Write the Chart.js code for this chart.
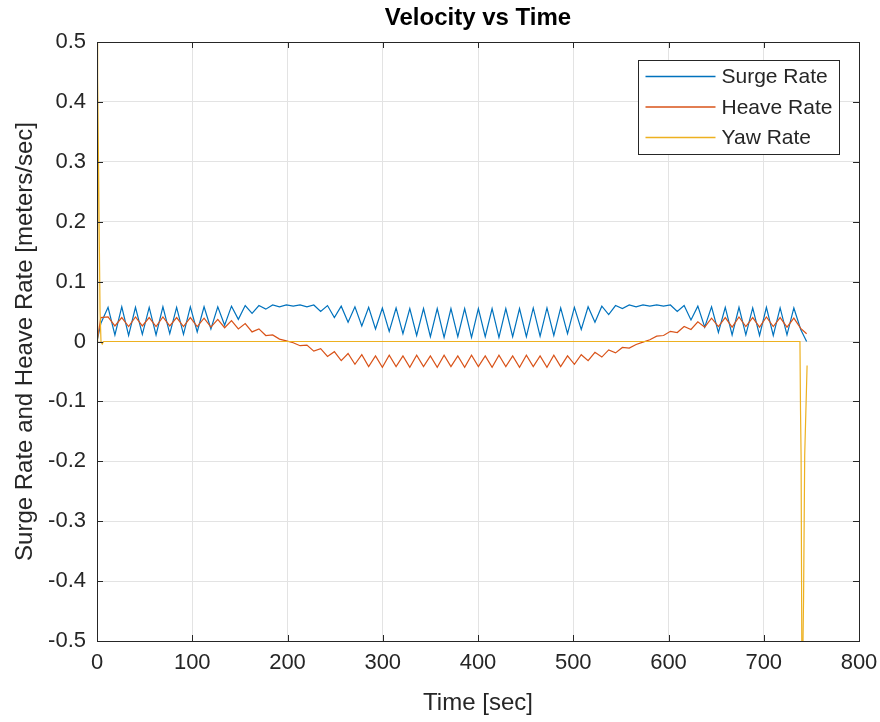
<!DOCTYPE html>
<html>
<head>
<meta charset="utf-8">
<title>Velocity vs Time</title>
<script src="https://cdn.jsdelivr.net/npm/chart.js@4.4.1/dist/chart.umd.min.js"></script>
<style>
    html, body { margin: 0; padding: 0; background: #ffffff; }
    #wrap { width: 880px; height: 722px; }
</style>
</head>
<body>
<div id="wrap"><canvas id="velocityChart" width="880" height="722"></canvas></div>
<script>
/* ==========================================================
   Velocity vs Time — surge / heave / yaw rate
========================================================== */

// time stamps shared by surge and heave [sec]
const time = [
    0, 4, 11.6, 18.8, 26.0, 33.2, 40.4, 47.6, 54.8, 62.0, 69.2, 76.4, 83.6, 90.8,
    98.0, 105.2, 112.4, 119.6, 126.8, 134.0, 141.2, 148.4, 155.6, 162.8, 170.0, 177.2,
    184.4, 191.6, 198.8, 206.0, 213.2, 220.4, 227.6, 234.8, 242.0, 249.2, 256.4, 263.6,
    270.8, 278.0, 285.2, 292.4, 299.6, 306.8, 314.0, 321.2, 328.4, 335.6, 342.8, 350.0,
    357.2, 364.4, 371.6, 378.8, 386.0, 393.2, 400.4, 407.6, 414.8, 422.0, 429.2, 436.4,
    443.6, 450.8, 458.0, 465.2, 472.4, 479.6, 486.8, 494.0, 501.2, 508.4, 515.6, 522.8,
    530.0, 537.2, 544.4, 551.6, 558.8, 566.0, 573.2, 580.4, 587.6, 594.8, 602.0, 609.2,
    616.4, 623.6, 630.8, 638.0, 645.2, 652.4, 659.6, 666.8, 674.0, 681.2, 688.4, 695.6,
    702.8, 710.0, 717.2, 724.4, 731.6, 738.8, 745.0
];

const surgeRate = [
    0.000, 0.030, 0.057, 0.011, 0.058, 0.010, 0.057, 0.012, 0.057, 0.011, 0.058, 0.013,
    0.057, 0.012, 0.058, 0.016, 0.058, 0.021, 0.058, 0.027, 0.059, 0.037, 0.060, 0.047,
    0.060, 0.054, 0.061, 0.058, 0.061, 0.059, 0.061, 0.058, 0.061, 0.050, 0.060, 0.040,
    0.059, 0.032, 0.058, 0.026, 0.057, 0.021, 0.056, 0.017, 0.056, 0.013, 0.055, 0.010,
    0.055, 0.008, 0.055, 0.007, 0.055, 0.008, 0.055, 0.007, 0.055, 0.008, 0.055, 0.007,
    0.055, 0.008, 0.055, 0.008, 0.056, 0.009, 0.056, 0.010, 0.056, 0.013, 0.057, 0.020,
    0.058, 0.032, 0.059, 0.045, 0.060, 0.055, 0.061, 0.058, 0.061, 0.059, 0.061, 0.059,
    0.061, 0.050, 0.060, 0.036, 0.059, 0.024, 0.058, 0.015, 0.057, 0.011, 0.057, 0.011,
    0.056, 0.010, 0.057, 0.010, 0.056, 0.011, 0.056, 0.020, 0.000
];

const heaveRate = [
    0.000, 0.040, 0.041, 0.026, 0.040, 0.025, 0.041, 0.026, 0.040, 0.025, 0.041, 0.026,
    0.040, 0.025, 0.040, 0.025, 0.039, 0.024, 0.037, 0.023, 0.035, 0.021, 0.030, 0.016,
    0.021, 0.010, 0.011, 0.004, 0.001, -0.002, -0.007, -0.006, -0.016, -0.012, -0.025, -0.017,
    -0.032, -0.020, -0.038, -0.022, -0.042, -0.024, -0.043, -0.023, -0.042, -0.024, -0.043, -0.023,
    -0.042, -0.024, -0.043, -0.023, -0.042, -0.024, -0.043, -0.023, -0.042, -0.024, -0.043, -0.023,
    -0.042, -0.024, -0.043, -0.023, -0.042, -0.024, -0.043, -0.023, -0.042, -0.024, -0.038, -0.022,
    -0.032, -0.018, -0.026, -0.014, -0.019, -0.010, -0.011, -0.005, -0.001, 0.003, 0.009, 0.010,
    0.017, 0.015, 0.025, 0.020, 0.033, 0.024, 0.039, 0.025, 0.040, 0.024, 0.041, 0.025,
    0.040, 0.024, 0.041, 0.025, 0.040, 0.024, 0.039, 0.022, 0.013
];

// yaw rate is flat except the start-up spike and the end transient
const yawTime = [0, 0.3, 1.0, 3.2, 4.2, 5.5, 7.0, 738.0, 738.6, 739.2, 740.2, 741.8, 743.0, 745.5];
const yawRate = [0, 0.56, 0.44, 0.05, 0.0, -0.004, 0.0, 0.0, -0.115, -0.19, -0.62, -0.43, -0.19, -0.04];

const xTicks = [0, 100, 200, 300, 400, 500, 600, 700, 800];
const yTicks = [-0.5, -0.4, -0.3, -0.2, -0.1, 0, 0.1, 0.2, 0.3, 0.4, 0.5];

const COLORS = {
    surge: "#0072BD",
    heave: "#D95319",
    yaw: "#EDB120",
    axis: "#262626",
    grid: "#e3e3e3"
};

const FONT = "'Liberation Sans', Arial, Helvetica, sans-serif";

function pairs(xs, ys) {
    return xs.map((x, i) => ({ x: x, y: ys[i] }));
}

/* box round the axes, with MATLAB-style inward ticks, and the legend */
const matlabFrame = {
    id: "matlabFrame",
    afterDatasetsDraw(chart) {
        const { ctx, chartArea: a, scales } = chart;
        const len = 6;
        ctx.save();
        ctx.strokeStyle = COLORS.axis;
        ctx.lineWidth = 1;
        ctx.beginPath();
        scales.x.ticks.forEach((t) => {
            const px = Math.round(scales.x.getPixelForValue(t.value)) + 0.5;
            ctx.moveTo(px, a.bottom); ctx.lineTo(px, a.bottom - len);
            ctx.moveTo(px, a.top); ctx.lineTo(px, a.top + len);
        });
        scales.y.ticks.forEach((t) => {
            const py = Math.round(scales.y.getPixelForValue(t.value)) + 0.5;
            ctx.moveTo(a.left, py); ctx.lineTo(a.left + len, py);
            ctx.moveTo(a.right, py); ctx.lineTo(a.right - len, py);
        });
        ctx.stroke();
        ctx.strokeRect(Math.round(a.left) + 0.5, Math.round(a.top) + 0.5,
            Math.round(a.right - a.left), Math.round(a.bottom - a.top));
        ctx.restore();
    },
    afterDraw(chart) {
        const { ctx, chartArea: a } = chart;
        const w = 201, h = 94;
        const x0 = Math.round(a.right - 20 - w) + 0.5;
        const y0 = Math.round(a.top + 18) + 0.5;
        ctx.save();
        ctx.fillStyle = "#ffffff";
        ctx.fillRect(x0, y0, w, h);
        ctx.strokeStyle = COLORS.axis;
        ctx.lineWidth = 1;
        ctx.strokeRect(x0, y0, w, h);
        ctx.font = "21px " + FONT;
        ctx.textBaseline = "middle";
        ctx.textAlign = "left";
        chart.data.datasets.forEach((ds, i) => {
            const yy = y0 + 16 + i * 30.5;
            ctx.strokeStyle = ds.borderColor;
            ctx.lineWidth = 1.5;
            ctx.beginPath();
            ctx.moveTo(x0 + 7, yy);
            ctx.lineTo(x0 + 77, yy);
            ctx.stroke();
            ctx.fillStyle = COLORS.axis;
            ctx.fillText(ds.label, x0 + 83, yy + 1);
        });
        ctx.restore();
    }
};

Chart.defaults.font.family = FONT;
Chart.defaults.color = COLORS.axis;

new Chart(document.getElementById("velocityChart").getContext("2d"), {
    type: "line",
    data: {
        datasets: [
            {
                label: "Surge Rate",
                data: pairs(time, surgeRate),
                borderColor: COLORS.surge,
                order: 2
            },
            {
                label: "Heave Rate",
                data: pairs(time, heaveRate),
                borderColor: COLORS.heave,
                order: 1
            },
            {
                label: "Yaw Rate",
                data: pairs(yawTime, yawRate),
                borderColor: COLORS.yaw,
                order: 0
            }
        ]
    },
    options: {
        responsive: false,
        animation: false,
        devicePixelRatio: 1,
        layout: { padding: { left: 0, right: 21, top: 0, bottom: 0 } },
        elements: {
            line: { borderWidth: 1.2, tension: 0, fill: false },
            point: { radius: 0, hoverRadius: 0 }
        },
        plugins: {
            legend: { display: false },
            tooltip: { enabled: false },
            title: {
                display: true,
                text: "Velocity vs Time",
                fullSize: false,
                color: "#000000",
                font: { size: 24, weight: "bold" },
                padding: { top: 4, bottom: 9.2 }
            }
        },
        scales: {
            x: {
                type: "linear",
                min: 0,
                max: 800,
                afterBuildTicks: (scale) => { scale.ticks = xTicks.map((v) => ({ value: v })); },
                afterFit: (scale) => {
                    scale.height = 81;
                    scale.paddingLeft = 0;
                    scale.paddingRight = 0;
                },
                grid: { color: COLORS.grid, drawTicks: false },
                border: { display: false },
                ticks: { padding: 9, font: { size: 22 }, maxRotation: 0 },
                title: {
                    display: true,
                    text: "Time [sec]",
                    font: { size: 24 },
                    padding: { top: 0, bottom: 4.6 }
                }
            },
            y: {
                min: -0.5,
                max: 0.5,
                afterBuildTicks: (scale) => { scale.ticks = yTicks.map((v) => ({ value: v })); },
                afterFit: (scale) => {
                    scale.width = 97;
                    scale.paddingTop = 0;
                    scale.paddingBottom = 0;
                },
                grid: { color: COLORS.grid, drawTicks: false },
                border: { display: false },
                ticks: {
                    padding: 11,
                    font: { size: 22 },
                    callback: (v) => String(Math.round(v * 10) / 10)
                },
                title: {
                    display: true,
                    text: "Surge Rate and Heave Rate [meters/sec]",
                    font: { size: 24 },
                    padding: { top: 10.6, bottom: 0 }
                }
            }
        }
    },
    plugins: [matlabFrame]
});
</script>
</body>
</html>
